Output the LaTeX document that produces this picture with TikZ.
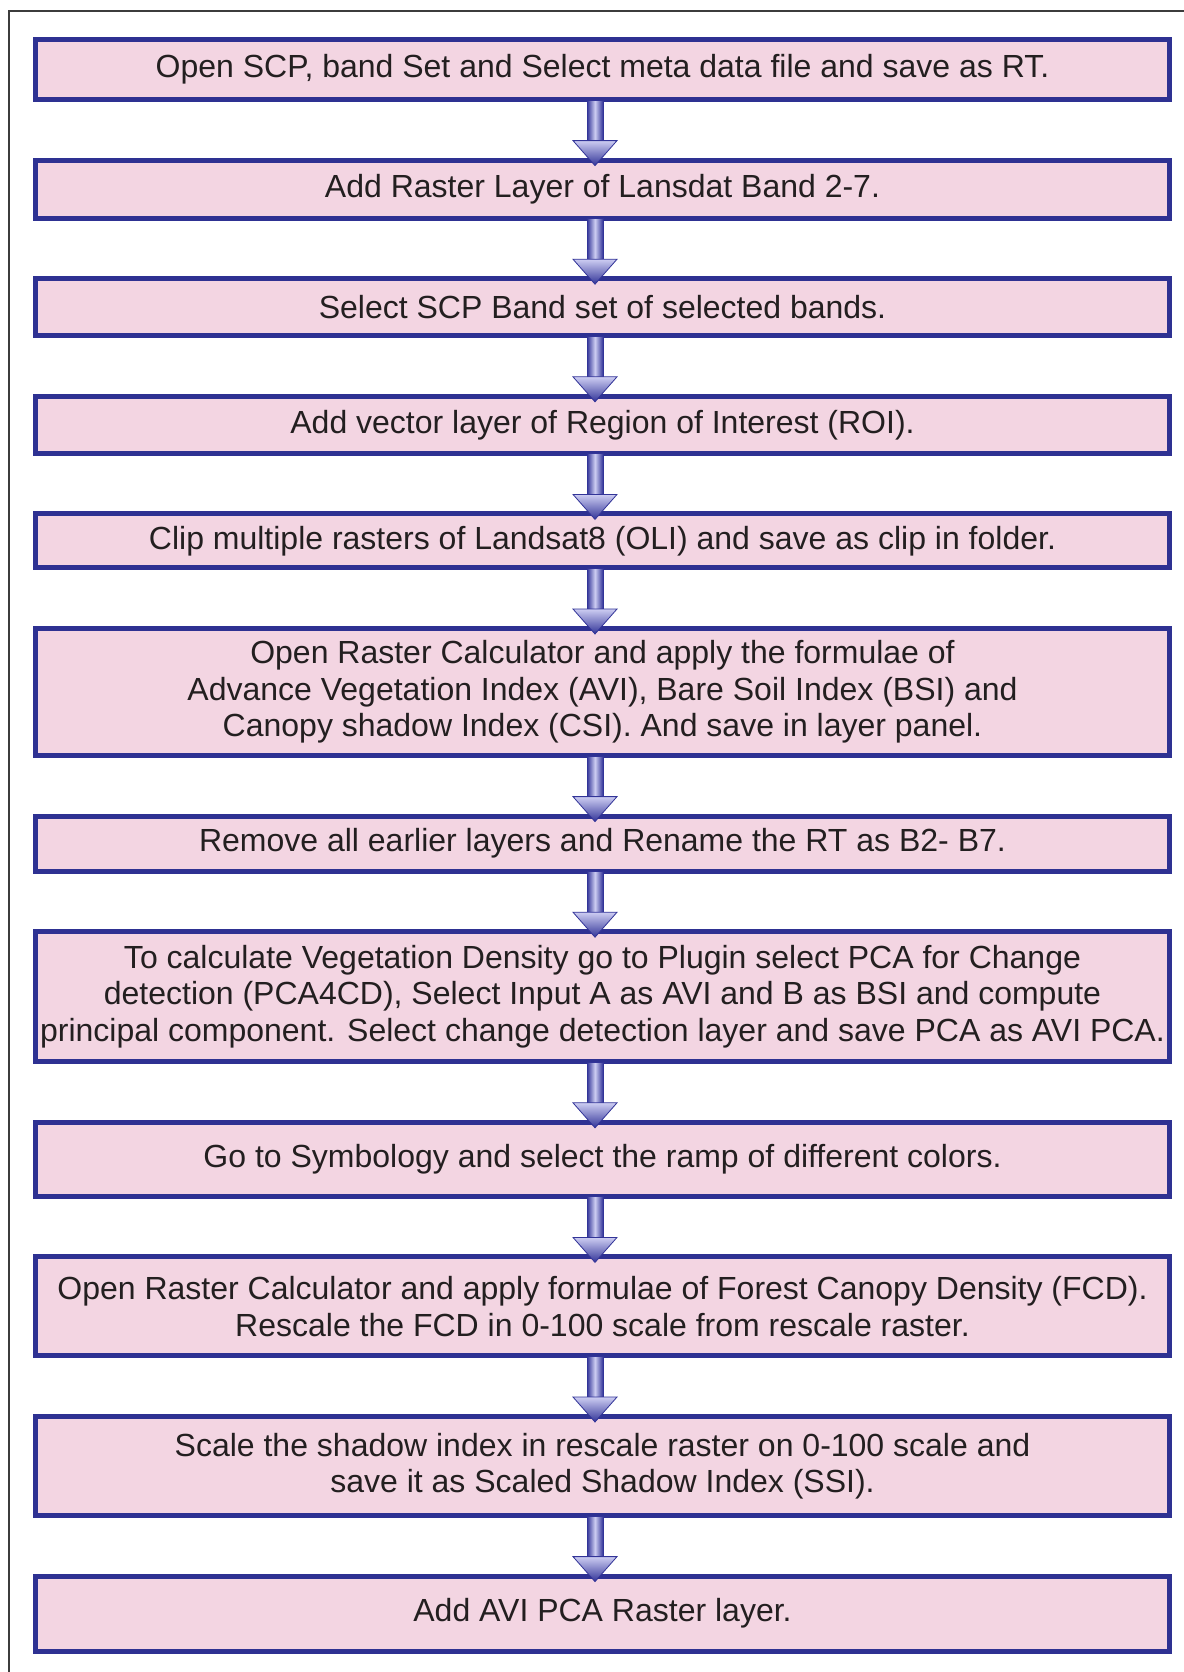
\documentclass[tikz,border=0pt]{standalone}
\usepackage{fontspec}
\setmainfont{Liberation Sans}
\usetikzlibrary{positioning,calc}

\definecolor{stepline}{RGB}{46,49,146}
\definecolor{stepfill}{RGB}{243,213,226}
\definecolor{stepglow}{RGB}{230,162,200}
\definecolor{arrowdark}{RGB}{50,52,152}
\definecolor{arrowlight}{RGB}{205,205,242}
\definecolor{textgray}{RGB}{35,31,32}
\definecolor{framegray}{RGB}{60,60,60}

% one step of the procedure
\tikzset{
  stage/.style={draw=stepline, line width=2.5pt, outer sep=1.25pt,
    fill=stepfill, minimum width=567pt, inner sep=0pt, align=center,
    text=textgray, font=\fontsize{16}{18.2}\selectfont,
    path picture={\shade[left color=stepfill, middle color=stepglow, right color=stepfill]
      ([xshift=-30pt]path picture bounding box.north) rectangle
      ([xshift=23pt]path picture bounding box.south);}},
}

% block arrow between two steps
\newcommand\flowarrow[2]{%
  \shade[left color=arrowdark, right color=arrowdark, middle color=arrowlight,
    draw=arrowdark, line width=0.4pt]
    ($(#1.south)+(-15.5,-2)$) rectangle ($(#2.north)+(0.5,-16)$);
  \shade[top color=arrowlight, bottom color=arrowdark, draw=arrowdark, line width=0.4pt]
    ($(#2.north)+(-29.5,-17)$) -- ($(#2.north)+(14.5,-17)$)
    -- ($(#2.north)+(-7.5,8)$) -- cycle;}

\begin{document}
\begin{tikzpicture}[x=0.5pt, y=-0.5pt]
  \useasboundingbox[fill=white] (0,0) rectangle (1184,1672);
  \draw[framegray, line width=1.2pt] (9,1680) -- (9,11) -- (1190,11);

  \node[stage, minimum height=30pt] (s1) at (602.5,69.5)
    {Open SCP, band Set and Select meta data file and save as RT.};
  \node[stage, minimum height=29pt, below=27.8pt of s1] (s2)
    {Add Raster Layer of Lansdat Band 2-7.};
  \node[stage, minimum height=28.5pt, below=27.8pt of s2] (s3)
    {Select SCP Band set of selected bands.};
  \node[stage, minimum height=28.5pt, below=27.8pt of s3] (s4)
    {Add vector layer of Region of Interest (ROI).};
  \node[stage, minimum height=27pt, below=27.8pt of s4] (s5)
    {Clip multiple rasters of Landsat8 (OLI) and save as clip in folder.};
  \node[stage, minimum height=63.5pt, below=27.8pt of s5] (s6)
    {Open Raster Calculator and apply the formulae of\\
     Advance Vegetation Index (AVI), Bare Soil Index (BSI) and\\
     Canopy shadow Index (CSI). And save in layer panel.};
  \node[stage, minimum height=27.5pt, below=27.8pt of s6] (s7)
    {Remove all earlier layers and Rename the RT as B2- B7.};
  \node[stage, minimum height=65pt, below=27.8pt of s7] (s8)
    {To calculate Vegetation Density go to Plugin select PCA for Change\\
     detection (PCA4CD), Select Input A as AVI and B as BSI and compute\\
     principal component. Select change detection layer and save PCA as AVI PCA.};
  \node[stage, minimum height=37pt, below=27.8pt of s8] (s9)
    {Go to Symbology and select the ramp of different colors.};
  \node[stage, minimum height=49.5pt, below=27.8pt of s9] (s10)
    {Open Raster Calculator and apply formulae of Forest Canopy Density (FCD).\\
     Rescale the FCD in 0-100 scale from rescale raster.};
  \node[stage, minimum height=49.5pt, below=27.8pt of s10] (s11)
    {Scale the shadow index in rescale raster on 0-100 scale and\\
     save it as Scaled Shadow Index (SSI).};
  \node[stage, minimum height=37.5pt, below=27.8pt of s11] (s12)
    {Add AVI PCA Raster layer.};

  \foreach \a/\b in {s1/s2,s2/s3,s3/s4,s4/s5,s5/s6,s6/s7,s7/s8,s8/s9,s9/s10,s10/s11,s11/s12}
    \flowarrow{\a}{\b};
\end{tikzpicture}
\end{document}
